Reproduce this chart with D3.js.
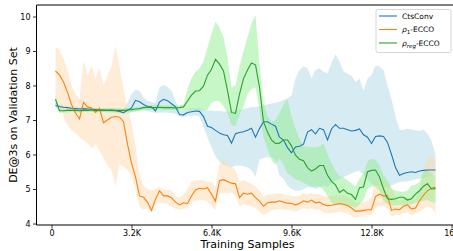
<!DOCTYPE html>
<html><head><meta charset="utf-8">
<script src="https://cdn.jsdelivr.net/npm/d3@7"></script>
<style>html,body{margin:0;padding:0;background:#fff;}svg{display:block;font-family:"DejaVu Sans",sans-serif;}</style>
</head><body><svg id="c" width="453" height="251"></svg>
<script>
const samples = [160,320,480,640,800,960,1120,1280,1440,1600,1760,1920,2080,2240,2400,2560,2720,2880,3040,3200,3360,3520,3680,3840,4000,4160,4320,4480,4640,4800,4960,5120,5280,5440,5600,5760,5920,6080,6240,6400,6560,6720,6880,7040,7200,7360,7520,7680,7840,8000,8160,8320,8480,8640,8800,8960,9120,9280,9440,9600,9760,9920,10080,10240,10400,10560,10720,10880,11040,11200,11360,11520,11680,11840,12000,12160,12320,12480,12640,12800,12960,13120,13280,13440,13600,13760,13920,14080,14240,14400,14560,14720,14880,15040,15200,15360];

const ctsMean = [7.42,7.39,7.37,7.36,7.34,7.33,7.32,7.33,7.32,7.31,7.30,7.29,7.29,7.28,7.28,7.27,7.25,7.21,7.28,7.35,7.57,7.53,7.45,7.39,7.38,7.26,7.52,7.60,7.56,7.47,7.38,7.16,7.15,7.22,7.24,7.26,7.25,7.10,6.82,6.78,6.70,6.62,6.57,6.55,6.33,6.60,6.64,6.66,6.70,6.76,6.50,6.75,6.95,6.95,6.88,6.82,6.50,6.42,6.20,6.05,6.22,6.24,6.30,6.65,6.72,6.60,6.76,6.72,6.42,6.74,6.87,6.76,6.76,6.72,6.68,6.70,6.74,6.57,6.50,6.32,6.52,6.54,6.52,6.35,6.00,5.62,5.40,5.45,5.48,5.50,5.48,5.52,5.54,5.55,5.55,5.55];
const ctsLow = [7.34,7.33,7.31,7.30,7.28,7.27,7.26,7.27,7.26,7.25,7.24,7.23,7.23,7.22,7.22,7.21,7.19,7.15,7.18,7.22,7.25,7.28,7.30,7.25,7.24,7.20,7.22,7.22,7.21,7.20,7.18,7.10,7.08,7.12,7.12,7.13,7.10,6.80,6.50,6.20,5.95,5.80,5.70,5.65,5.62,5.68,5.68,5.66,5.62,5.55,5.36,5.85,5.90,5.92,5.92,5.85,5.40,5.30,5.10,5.00,4.95,4.95,5.00,5.05,5.05,5.00,5.05,5.10,5.05,5.15,5.25,5.30,5.35,5.40,5.45,5.50,5.52,5.40,5.30,5.15,5.10,5.10,5.05,5.05,5.10,5.15,5.20,5.22,5.22,5.25,5.28,5.30,5.32,5.35,5.40,5.45];
const ctsHigh = [7.50,7.46,7.43,7.42,7.40,7.39,7.38,7.39,7.38,7.37,7.36,7.35,7.35,7.34,7.34,7.33,7.31,7.30,7.50,7.75,7.87,7.85,7.65,7.55,7.52,7.50,7.95,8.02,7.95,7.85,7.55,7.30,7.28,7.32,7.34,7.35,7.35,7.30,7.28,7.27,7.27,7.26,7.25,7.25,7.25,7.28,7.30,7.32,7.35,7.38,7.38,7.40,7.42,7.45,7.48,7.50,7.53,7.58,7.63,7.70,8.20,8.45,8.55,8.50,8.20,8.45,8.50,8.40,8.35,8.65,8.90,8.70,8.40,8.35,8.28,8.10,8.20,7.85,8.20,8.30,8.58,8.55,8.45,8.00,7.60,7.10,6.72,6.72,6.75,6.72,6.70,6.68,6.72,6.60,6.40,6.00];

const rho1Mean = [8.42,8.30,8.10,7.80,7.45,7.20,7.03,7.51,7.38,7.35,7.22,7.34,6.92,7.00,7.08,7.10,7.08,6.95,6.30,5.75,5.35,4.80,4.76,4.62,4.38,4.70,4.95,4.80,4.80,4.75,4.62,4.54,4.60,4.58,4.80,4.97,5.02,5.00,5.04,4.85,4.65,5.24,5.27,5.22,5.17,5.15,4.75,4.88,4.85,4.88,4.75,4.65,4.50,4.60,4.62,4.62,4.66,4.62,4.59,4.58,4.54,4.58,4.66,4.62,4.68,4.60,4.62,4.55,4.52,4.53,4.55,4.58,4.56,4.52,4.45,4.36,4.36,4.38,4.40,4.40,4.78,4.85,4.80,4.80,4.38,4.42,4.40,4.50,4.54,4.42,4.45,4.66,4.82,4.95,5.02,5.06];
const rho1Low = [7.65,7.45,7.10,6.85,6.70,6.62,6.50,6.42,6.32,6.18,6.30,6.10,5.90,5.68,5.55,5.07,5.72,5.65,5.55,5.40,5.00,4.50,4.40,4.45,4.30,4.55,4.60,4.58,4.58,4.50,4.42,4.40,4.42,4.45,4.62,4.65,4.68,4.68,4.65,4.50,4.40,4.85,4.90,4.88,4.90,4.80,4.50,4.55,4.52,4.50,4.45,4.35,4.25,4.30,4.38,4.40,4.42,4.40,4.40,4.38,4.35,4.40,4.45,4.42,4.45,4.40,4.40,4.32,4.30,4.30,4.32,4.35,4.33,4.28,4.22,4.18,4.20,4.22,4.25,4.25,4.45,4.50,4.50,4.45,4.20,4.25,4.25,4.30,4.32,4.25,4.28,4.35,4.42,4.48,4.45,4.30];
const rho1High = [9.13,9.03,8.78,8.45,8.00,7.75,7.60,8.72,8.30,8.58,8.20,8.50,8.00,8.30,8.55,9.15,8.55,7.90,7.35,6.90,6.25,5.40,5.10,5.00,4.95,5.00,5.06,5.00,4.98,4.95,4.80,4.75,4.85,5.00,5.22,5.26,5.26,5.26,5.22,5.20,5.05,5.75,5.84,5.75,5.65,5.55,5.20,5.26,5.20,5.15,5.07,4.95,4.78,4.85,4.85,4.88,4.88,4.85,4.82,4.80,4.78,4.80,4.88,4.85,4.88,4.85,4.85,4.80,4.78,4.80,4.82,4.83,4.82,4.78,4.70,4.60,4.60,4.62,4.65,4.75,5.30,5.36,5.25,5.20,5.07,4.75,4.65,4.72,4.78,4.65,4.70,5.00,5.60,5.85,6.00,5.85];

const rhoRegMean = [7.60,7.27,7.27,7.28,7.28,7.28,7.27,7.28,7.28,7.29,7.28,7.28,7.28,7.28,7.29,7.28,7.28,7.28,7.29,7.30,7.32,7.33,7.36,7.37,7.36,7.36,7.37,7.36,7.36,7.36,7.35,7.36,7.38,7.55,7.72,7.84,7.85,7.98,8.30,8.47,8.76,8.62,8.42,7.85,7.22,7.19,7.75,8.20,8.45,8.65,8.60,7.95,6.95,6.65,6.42,6.32,6.33,6.42,6.42,6.25,5.98,5.86,5.82,5.62,5.52,5.58,5.68,5.68,5.40,5.22,5.12,4.90,4.98,4.88,4.84,4.70,5.04,5.06,5.50,5.54,5.55,5.35,5.00,4.72,4.70,4.72,4.76,4.76,4.68,4.72,4.85,4.95,5.08,5.15,5.00,5.01];
const rhoRegLow = [7.45,7.20,7.22,7.22,7.23,7.22,7.22,7.23,7.23,7.23,7.22,7.23,7.23,7.23,7.23,7.22,7.23,7.23,7.23,7.24,7.25,7.26,7.28,7.29,7.30,7.30,7.29,7.29,7.29,7.29,7.28,7.28,7.28,7.29,7.29,7.29,7.28,7.28,7.30,7.50,7.55,7.55,7.40,7.20,6.85,6.82,7.15,7.40,7.75,7.90,7.95,7.30,6.50,6.15,5.85,5.70,5.90,5.70,5.45,5.38,5.28,5.25,5.18,5.12,5.07,5.07,5.07,4.98,4.80,4.60,4.54,4.54,4.52,4.50,4.49,4.45,4.55,4.68,5.00,5.07,5.07,4.95,4.65,4.55,4.52,4.52,4.54,4.54,4.54,4.56,4.60,4.64,4.66,4.68,4.62,4.60];
const rhoRegHigh = [7.72,7.35,7.33,7.33,7.34,7.34,7.33,7.34,7.34,7.35,7.34,7.34,7.34,7.34,7.35,7.34,7.34,7.34,7.35,7.36,7.37,7.38,7.40,7.42,7.43,7.44,7.43,7.43,7.43,7.43,7.42,7.43,7.45,7.90,8.20,8.40,8.50,8.70,9.10,9.50,9.85,9.68,9.40,8.80,7.95,8.00,8.55,9.00,9.40,9.80,10.04,8.60,7.50,7.10,6.95,7.00,7.20,7.45,7.60,7.10,6.75,6.45,6.25,6.22,6.22,6.20,6.23,6.32,6.00,5.74,5.52,5.36,5.35,5.25,5.17,5.07,5.30,5.45,5.80,5.88,5.85,5.68,5.40,5.25,5.00,4.95,4.93,4.92,4.95,5.10,5.12,5.20,5.50,5.55,5.45,5.40];

const xTicks = [0,3200,6400,9600,12800,16000];
const xTickLabels = ["0","3.2K","6.4K","9.6K","12.8K","16K"];
const yTicks = [4,5,6,7,8,9,10];

const series = [
  {name:"CtsConv", mean:ctsMean, low:ctsLow, high:ctsHigh, color:"#1f77b4", fill:"#add8e6", op:0.5},
  {name:"rho1", mean:rho1Mean, low:rho1Low, high:rho1High, color:"#ff7f0e", fill:"#ffd9b0", op:0.5},
  {name:"rhoReg", mean:rhoRegMean, low:rhoRegLow, high:rhoRegHigh, color:"#2ca02c", fill:"#90ee90", op:0.5}
];

const svg = d3.select("#c");
const L = 36.5, R = 454.5, T = 5, B = 225;
const x = d3.scaleLinear().domain([-600, 16120]).range([L, R]);
const y = d3.scaleLinear().domain([3.957, 10.333]).range([B, T]);

svg.append("defs").append("clipPath").attr("id","clip")
  .append("rect").attr("x",L).attr("y",T).attr("width",R-L).attr("height",B-T);

const g = svg.append("g").attr("clip-path","url(#clip)");
series.forEach(s => {
  const area = d3.area().x((d,i)=>x(samples[i])).y0((d,i)=>y(s.low[i])).y1((d,i)=>y(s.high[i]));
  g.append("path").datum(s.mean).attr("d", area).attr("fill", s.fill).attr("fill-opacity", s.op);
});
series.forEach(s => {
  const line = d3.line().x((d,i)=>x(samples[i])).y(d=>y(d));
  g.append("path").datum(s.mean).attr("d", line).attr("fill","none").attr("stroke", s.color).attr("stroke-width",1.1);
});

// axes
const xAxis = d3.axisBottom(x).tickValues(xTicks).tickFormat((d,i)=>xTickLabels[i]).tickSize(3.5).tickPadding(2);
const gx = svg.append("g").attr("transform",`translate(0,${B})`).call(xAxis);
const yAxis = d3.axisLeft(y).tickValues(yTicks).tickFormat(d3.format("d")).tickSize(3.5).tickPadding(2.5);
const gy = svg.append("g").attr("transform",`translate(${L},0)`).call(yAxis);
[gx, gy].forEach(a => {
  a.select(".domain").remove();
  a.selectAll("text").attr("font-size", 8).attr("fill","#000").attr("font-family","DejaVu Sans");
  a.selectAll("line").attr("stroke","#000").attr("stroke-width",0.8);
});
// spines
svg.append("line").attr("x1",L).attr("x2",L).attr("y1",T).attr("y2",B).attr("stroke","#000").attr("stroke-width",1);
svg.append("line").attr("x1",L).attr("x2",R).attr("y1",B).attr("y2",B).attr("stroke","#000").attr("stroke-width",1);
svg.append("line").attr("x1",L).attr("x2",R).attr("y1",T).attr("y2",T).attr("stroke","#000").attr("stroke-width",1);
svg.append("line").attr("x1",R).attr("x2",R).attr("y1",T).attr("y2",B).attr("stroke","#000").attr("stroke-width",1);

svg.append("text").attr("x", (L+R)/2 + 2).attr("y", 248).attr("text-anchor","middle")
  .attr("font-size", 11).text("Training Samples");
svg.append("text").attr("transform",`translate(17,${(T+B)/2}) rotate(-90)`).attr("text-anchor","middle")
  .attr("font-size", 11).text("DE@3s on Validation Set");

// legend
const lg = svg.append("g");
lg.append("rect").attr("x",376).attr("y",9.5).attr("width",75).attr("height",43).attr("rx",2)
  .attr("fill","#fff").attr("fill-opacity",0.8).attr("stroke","#ccc").attr("stroke-width",0.8);
const ly = [16, 29.5, 43];
series.forEach((s,i) => {
  lg.append("line").attr("x1",379).attr("x2",397).attr("y1",ly[i]).attr("y2",ly[i]).attr("stroke",s.color).attr("stroke-width",1.1);
});
const t0 = lg.append("text").attr("x",402).attr("y",ly[0]+2.8).attr("font-size",7.5).text("CtsConv");
const t1 = lg.append("text").attr("x",402).attr("y",ly[1]+2.8).attr("font-size",7.5);
t1.append("tspan").attr("font-style","italic").text("ρ");
t1.append("tspan").attr("font-size",5.5).attr("dy",1.8).text("1");
t1.append("tspan").attr("dy",-1.8).text("-ECCO");
const t2 = lg.append("text").attr("x",402).attr("y",ly[2]+2.8).attr("font-size",7.5);
t2.append("tspan").attr("font-style","italic").text("ρ");
t2.append("tspan").attr("font-size",5.5).attr("font-style","italic").attr("dy",1.8).text("reg");
t2.append("tspan").attr("dy",-1.8).text("-ECCO");
</script></body></html>
